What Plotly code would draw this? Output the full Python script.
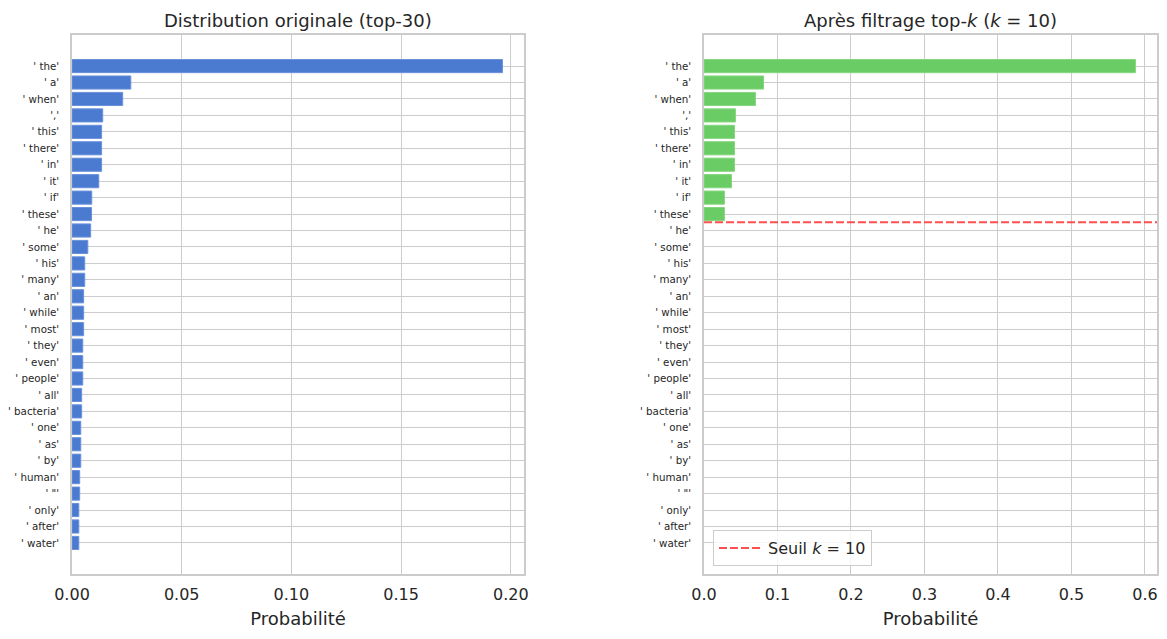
import plotly.graph_objects as go

tokens = ["' the'", "' a'", "' when'", "','", "' this'", "' there'", "' in'", "' it'", "' if'", "' these'",
          "' he'", "' some'", "' his'", "' many'", "' an'", "' while'", "' most'", "' they'", "' even'", "' people'",
          "' all'", "' bacteria'", "' one'", "' as'", "' by'", "' human'", "' \"'", "' only'", "' after'", "' water'"]
orig_probs = [0.1962, 0.0268, 0.0231, 0.0140, 0.0135, 0.0135, 0.0135, 0.0122, 0.0090, 0.0089,
              0.0085, 0.0072, 0.0058, 0.0058, 0.0053, 0.0053, 0.0053, 0.0049, 0.0049, 0.0049,
              0.0044, 0.0044, 0.0040, 0.0040, 0.0040, 0.0035, 0.0035, 0.0031, 0.0031, 0.0031]
topk_tokens = tokens[:10]
topk_probs = [0.587, 0.081, 0.070, 0.0428, 0.0415, 0.0415, 0.0415, 0.0374, 0.0278, 0.0278]
k = 10

left_ticks = [0.00, 0.05, 0.10, 0.15, 0.20]
right_ticks = [0.0, 0.1, 0.2, 0.3, 0.4, 0.5, 0.6]

W, H = 1167, 639
def px_x(p): return p / W
def px_y(p): return 1 - p / H

TXT = "#262626"
GRID = "#cccccc"
FONT = "DejaVu Sans"

fig = go.Figure()
fig.add_trace(go.Bar(x=orig_probs, y=tokens, orientation="h", width=0.8,
                     marker=dict(color="#4a7bd1", line=dict(color="#6a91dc", width=1)),
                     xaxis="x", yaxis="y", showlegend=False))
fig.add_trace(go.Bar(x=topk_probs, y=topk_tokens, orientation="h", width=0.8,
                     marker=dict(color="#6acc64", line=dict(color="#85d67f", width=1)),
                     xaxis="x2", yaxis="y2", showlegend=False))

n = len(tokens)
yr = [n - 1 + 0.4 + 0.05 * (n - 1 + 0.8), -0.4 - 0.05 * (n - 1 + 0.8)]

ax_common = dict(showgrid=True, gridcolor=GRID, gridwidth=1, showline=True, linecolor=GRID,
                 linewidth=1.5, mirror=True, zeroline=False, automargin=False)
xfont = dict(family=FONT, size=16, color=TXT)
yfont = dict(family=FONT, size=10.3, color=TXT)
title_font = dict(family=FONT, size=18, color=TXT)

fig.update_layout(
    width=W, height=H, margin=dict(l=0, r=0, t=0, b=0),
    paper_bgcolor="white", plot_bgcolor="white",
    font=dict(family=FONT, color=TXT),
    bargap=0.2,
    xaxis=dict(domain=[px_x(72), px_x(524)], range=[0, max(orig_probs) * 1.05], anchor="y",
               tickvals=left_ticks, tickformat=".2f", tickfont=xfont,
               ticks="outside", ticklen=5, tickcolor="rgba(0,0,0,0)",
               title=dict(text="Probabilité", font=title_font, standoff=9),
               **ax_common),
    yaxis=dict(domain=[px_y(574), px_y(35)], range=yr, anchor="x", type="category",
               categoryorder="array", categoryarray=tokens, tickfont=yfont,
               ticks="outside", ticklen=9, tickcolor="rgba(0,0,0,0)", **ax_common),
    xaxis2=dict(domain=[px_x(704), px_x(1157)], range=[0, max(topk_probs) * 1.05], anchor="y2",
                tickvals=right_ticks, tickformat=".1f", tickfont=xfont,
                ticks="outside", ticklen=5, tickcolor="rgba(0,0,0,0)",
                title=dict(text="Probabilité", font=title_font, standoff=9),
                **ax_common),
    yaxis2=dict(domain=[px_y(574), px_y(35)], range=yr, anchor="x2", type="category",
                categoryorder="array", categoryarray=tokens, tickfont=yfont,
                ticks="outside", ticklen=9, tickcolor="rgba(0,0,0,0)", **ax_common),
    legend=dict(x=px_x(713), y=px_y(566), xanchor="left", yanchor="bottom",
                bgcolor="rgba(255,255,255,0.8)", bordercolor=GRID, borderwidth=1,
                itemwidth=44,
                font=dict(family=FONT, size=16, color=TXT)),
    showlegend=True,
)

fig.add_shape(type="line", xref="x2 domain", yref="y2", x0=0, x1=1, y0=k - 0.5, y1=k - 0.5,
              line=dict(color="rgba(255,60,60,0.9)", width=2, dash="8px,3px"),
              showlegend=True, name=f"Seuil <i>k</i> = {k}")

fig.add_annotation(text="Distribution originale (top-30)", xref="paper", yref="paper",
                   x=px_x((72 + 524) / 2), y=px_y(20), showarrow=False,
                   font=title_font, xanchor="center", yanchor="middle")
fig.add_annotation(text=f"Après filtrage top-<i>k</i> (<i>k</i> = {k})", xref="paper", yref="paper",
                   x=px_x((704 + 1157) / 2), y=px_y(20), showarrow=False,
                   font=title_font, xanchor="center", yanchor="middle")

fig.write_html("out.html", config={"displayModeBar": False},
               post_script="document.body.style.margin='0';document.body.style.overflow='hidden';")
